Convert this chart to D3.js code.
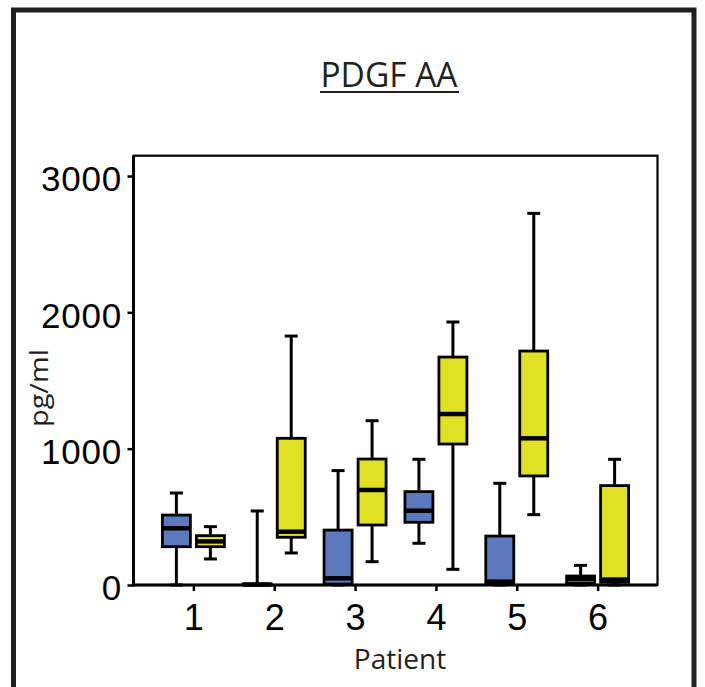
<!DOCTYPE html>
<html><head><meta charset="utf-8">
<script src="https://cdn.jsdelivr.net/npm/d3@7"></script>
<style>body{margin:0;background:#fff;} svg{display:block}</style>
</head><body><svg id="c" width="705" height="687"></svg>
<script>
const patients = [1, 2, 3, 4, 5, 6];
const groups = ["blue", "yellow"];
const yTicks = [0, 1000, 2000, 3000];
// Blue group (five-number summaries per patient)
const blueMin = [0, 0, 0, 306, 0, 0];
const blueQ1  = [281, 0, 7, 460, 7, 12];
const blueMed = [416, 3, 49, 545, 25, 45];
const blueQ3  = [513, 8, 403, 685, 359, 66];
const blueMax = [675, 543, 839, 922, 746, 144];
// Yellow group
const yellowMin = [191, 235, 171, 115, 516, 0];
const yellowQ1  = [281, 350, 440, 1034, 800, 20];
const yellowMed = [320, 391, 697, 1254, 1076, 40];
const yellowQ3  = [362, 1076, 924, 1672, 1716, 729];
const yellowMax = [428, 1826, 1205, 1929, 2726, 922];

const colors = {blue: "#5c79bd", yellow: "#e0e024"};
const boxes = [];
patients.forEach((p, i) => {
  boxes.push({p, g: "blue", min: blueMin[i], q1: blueQ1[i], med: blueMed[i], q3: blueQ3[i], max: blueMax[i]});
  boxes.push({p, g: "yellow", min: yellowMin[i], q1: yellowQ1[i], med: yellowMed[i], q3: yellowQ3[i], max: yellowMax[i]});
});

const svg = d3.select("#c");
const L = 133.5, R = 657.5, T = 155.7, B = 585;
const x = d3.scaleLinear().domain([1 - 60/81, 6 + 60/81]).range([L, R]);
const y = d3.scaleLinear().domain([0, 3000 * (B - T) / (B - 176)]).range([B, T]);
const off = d3.scalePoint().domain(groups).range([-17, 17]);
const bw = 28, capW = 13;

// outer frame
svg.append("rect").attr("x", 13.5).attr("y", 10).attr("width", 680.5).attr("height", 700)
  .attr("fill", "none").attr("stroke", "#231f20").attr("stroke-width", 5);

// title
svg.append("text").attr("x", 320.5).attr("y", 87).attr("font-family", "Open Sans")
  .attr("font-size", 34).attr("fill", "#231f20").attr("textLength", 137).attr("lengthAdjust", "spacingAndGlyphs")
  .text("PDGF AA");
svg.append("line").attr("x1", 320).attr("x2", 459).attr("y1", 92).attr("y2", 92)
  .attr("stroke", "#231f20").attr("stroke-width", 2);

// boxes
const gB = svg.append("g");
const bx = gB.selectAll("g.box").data(boxes).join("g").attr("class", "box");
const cx = d => x(d.p) + off(d.g);
// whiskers
bx.append("line").attr("x1", cx).attr("x2", cx).attr("y1", d => y(d.max)).attr("y2", d => y(d.q3))
  .attr("stroke", "#000").attr("stroke-width", 3);
bx.append("line").attr("x1", cx).attr("x2", cx).attr("y1", d => y(d.min)).attr("y2", d => y(d.q1))
  .attr("stroke", "#000").attr("stroke-width", 3);
bx.append("line").attr("x1", d => cx(d) - capW/2).attr("x2", d => cx(d) + capW/2)
  .attr("y1", d => y(d.max)).attr("y2", d => y(d.max)).attr("stroke", "#000").attr("stroke-width", 3);
bx.append("line").attr("x1", d => cx(d) - capW/2).attr("x2", d => cx(d) + capW/2)
  .attr("y1", d => y(d.min)).attr("y2", d => y(d.min)).attr("stroke", "#000").attr("stroke-width", 3);
bx.append("rect").attr("x", d => cx(d) - bw/2).attr("width", bw)
  .attr("y", d => y(d.q3)).attr("height", d => y(d.q1) - y(d.q3))
  .attr("fill", d => colors[d.g]).attr("stroke", "#000").attr("stroke-width", 2.8);
bx.append("line").attr("x1", d => cx(d) - bw/2).attr("x2", d => cx(d) + bw/2)
  .attr("y1", d => y(d.med)).attr("y2", d => y(d.med)).attr("stroke", "#000").attr("stroke-width", 4.5);

// plot frame
svg.append("rect").attr("x", L).attr("y", T).attr("width", R - L).attr("height", B - T)
  .attr("fill", "none").attr("stroke", "#000").attr("stroke-width", 2.2);
svg.append("line").attr("x1", L).attr("x2", L).attr("y1", T).attr("y2", B + 1.5)
  .attr("stroke", "#000").attr("stroke-width", 3);
svg.append("line").attr("x1", L).attr("x2", R).attr("y1", B).attr("y2", B)
  .attr("stroke", "#000").attr("stroke-width", 3);

// y axis
const ya = svg.append("g").attr("transform", `translate(${L},0)`)
  .call(d3.axisLeft(y).tickValues(yTicks).tickSize(6).tickPadding(5.5).tickFormat(d3.format("d")));
ya.select(".domain").remove();
ya.selectAll(".tick line").attr("stroke", "#000").attr("stroke-width", 2.5);
ya.selectAll(".tick text").attr("font-family", "Liberation Sans, Arial").attr("font-size", 35)
  .attr("fill", "#000").attr("dy", "0.42em").attr("letter-spacing", 0.8);

// x axis
const xa = svg.append("g").attr("transform", `translate(0,${B})`)
  .call(d3.axisBottom(x).tickValues(patients).tickSize(6).tickFormat(d3.format("d")));
xa.select(".domain").remove();
xa.selectAll(".tick line").attr("stroke", "#000").attr("stroke-width", 2.5);
xa.selectAll(".tick text").attr("font-family", "Liberation Sans, Arial").attr("font-size", 36)
  .attr("fill", "#000").attr("y", 45).attr("dy", 0);

// axis titles
svg.append("text").attr("x", 400).attr("y", 669).attr("text-anchor", "middle")
  .attr("font-family", "Open Sans").attr("font-size", 28).attr("fill", "#231f20").text("Patient");
svg.append("text").attr("transform", "translate(48,388) rotate(-90)").attr("text-anchor", "middle")
  .attr("font-family", "Open Sans").attr("font-size", 26).attr("fill", "#231f20")
  .attr("textLength", 78).attr("lengthAdjust", "spacingAndGlyphs").text("pg/ml");
</script></body></html>
